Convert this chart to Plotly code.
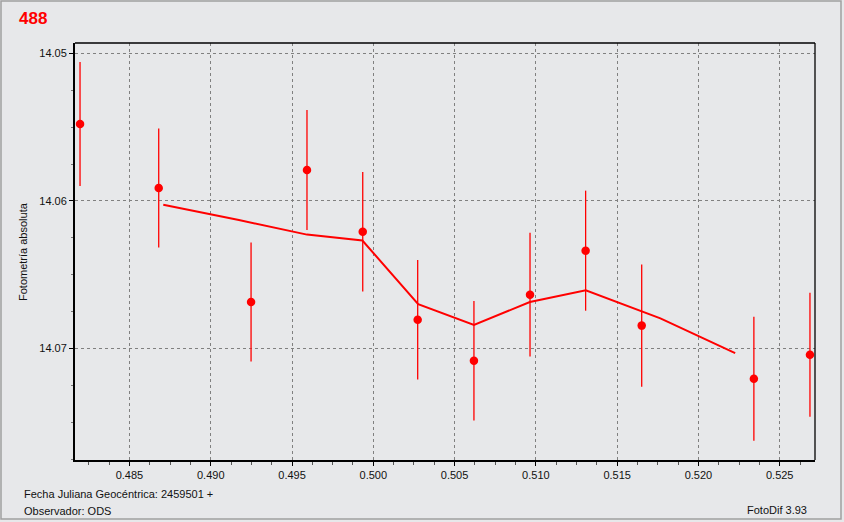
import plotly.graph_objects as go

# Observations (fractional JD after 2459501), magnitudes and errors
jd = [0.48196, 0.48680, 0.49248, 0.49592, 0.49935, 0.50273,
      0.50619, 0.50964, 0.51306, 0.51651, 0.52341, 0.52686]
mag = [14.05478, 14.05912, 14.06685, 14.05790, 14.06208, 14.06805,
       14.07083, 14.06635, 14.06337, 14.06845, 14.07205, 14.07042]
err = [0.00420, 0.00403, 0.00404, 0.00407, 0.00405, 0.00405,
       0.00405, 0.00419, 0.00407, 0.00414, 0.00420, 0.00420]

# Smoothed curve
smooth_jd = [0.48708, 0.49173, 0.49592, 0.49933, 0.50276,
             0.50619, 0.50963, 0.51307, 0.51766, 0.52226]
smooth_mag = [14.06025, 14.06129, 14.06228, 14.06268, 14.06699,
              14.06841, 14.06685, 14.06606, 14.06796, 14.07031]

x_ticks = [0.485, 0.490, 0.495, 0.500, 0.505, 0.510, 0.515, 0.520, 0.525]
x_tick_labels = ["0.485", "0.490", "0.495", "0.500", "0.505", "0.510", "0.515", "0.520", "0.525"]
y_ticks = [14.05, 14.06, 14.07]
y_tick_labels = ["14.05", "14.06", "14.07"]

RED = "#ff0000"
BG = "#e7e8ea"
FONT = "Liberation Sans"

W, H = 844, 522
L, R, T, B = 75, 29, 43, 62
PW, PH = W - L - R, H - T - B


def px(x):
    return (x - L) / PW


def py(y):
    return (H - B - y) / PH


fig = go.Figure()

fig.add_trace(go.Scatter(
    x=smooth_jd, y=smooth_mag, mode="lines",
    line=dict(color=RED, width=2), hoverinfo="skip", showlegend=False))

fig.add_trace(go.Scatter(
    x=jd, y=mag, mode="markers",
    marker=dict(color=RED, size=8.5, symbol="circle"),
    error_y=dict(type="data", array=err, visible=True, color=RED,
                 thickness=1.3, width=0),
    showlegend=False))

grid = dict(showgrid=True, gridcolor="#808080", gridwidth=1, griddash="3px,3px")

fig.update_xaxes(
    range=[0.48165, 0.52717], tickmode="array", tickvals=x_ticks, ticktext=x_tick_labels,
    ticks="outside", ticklen=4, tickcolor="#000", tickwidth=1,
    minor=dict(dtick=0.00125, tick0=0.485, ticks="outside", ticklen=3, tickcolor="#555", showgrid=False),
    showline=True, linecolor="#000", linewidth=2, mirror=False, zeroline=False,
    tickfont=dict(family=FONT, size=11, color="#111"), **grid)

fig.update_yaxes(
    range=[14.07756, 14.04929], tickmode="array", tickvals=y_ticks, ticktext=y_tick_labels,
    ticks="outside", ticklen=4, tickcolor="#000", tickwidth=1,
    minor=dict(dtick=0.0025, tick0=14.05, ticks="outside", ticklen=2, tickcolor="#777", showgrid=False),
    showline=True, linecolor="#000", linewidth=2, mirror=False, zeroline=False,
    tickfont=dict(family=FONT, size=11, color="#111"), **grid)

shapes = [
    # outer frame
    dict(type="rect", xref="paper", yref="paper",
         x0=px(1), x1=px(841), y0=py(1), y1=py(519),
         line=dict(color="#a0a0a0", width=1.5), fillcolor="rgba(0,0,0,0)", layer="above"),
    # top and right plot border
    dict(type="line", xref="paper", yref="paper", x0=0, x1=1, y0=1, y1=1,
         line=dict(color="#000", width=1.3), layer="above"),
    dict(type="line", xref="paper", yref="paper", x0=1, x1=1, y0=0, y1=1,
         line=dict(color="#000", width=1.3), layer="above"),
]

annotations = [
    dict(text="<b>488</b>", xref="paper", yref="paper", x=px(17), y=py(19),
         xanchor="left", yanchor="middle", showarrow=False,
         font=dict(family=FONT, size=17, color=RED)),
    dict(text="Fotometría absoluta", xref="paper", yref="paper", x=px(22.5), y=0.5,
         xanchor="center", yanchor="middle", textangle=-90, showarrow=False,
         font=dict(family=FONT, size=11, color="#111")),
    dict(text="Fecha Juliana Geocéntrica: 2459501 +", xref="paper", yref="paper",
         x=px(22), y=py(494.5), xanchor="left", yanchor="middle", showarrow=False,
         font=dict(family=FONT, size=11, color="#111")),
    dict(text="Observador: ODS", xref="paper", yref="paper",
         x=px(22), y=py(511), xanchor="left", yanchor="middle", showarrow=False,
         font=dict(family=FONT, size=11, color="#111")),
    dict(text="FotoDif 3.93", xref="paper", yref="paper",
         x=px(809), y=py(510), xanchor="right", yanchor="middle", showarrow=False,
         font=dict(family=FONT, size=11, color="#111")),
]

fig.update_layout(
    width=W, height=H, autosize=False,
    margin=dict(l=L, r=R, t=T, b=B, pad=0),
    paper_bgcolor=BG, plot_bgcolor=BG,
    shapes=shapes, annotations=annotations,
    showlegend=False, font=dict(family=FONT, size=11, color="#111"),
)

fig.write_html(
    "out.html",
    config={"displayModeBar": False},
    post_script="document.body.style.margin='0';document.body.style.overflow='hidden';",
)
